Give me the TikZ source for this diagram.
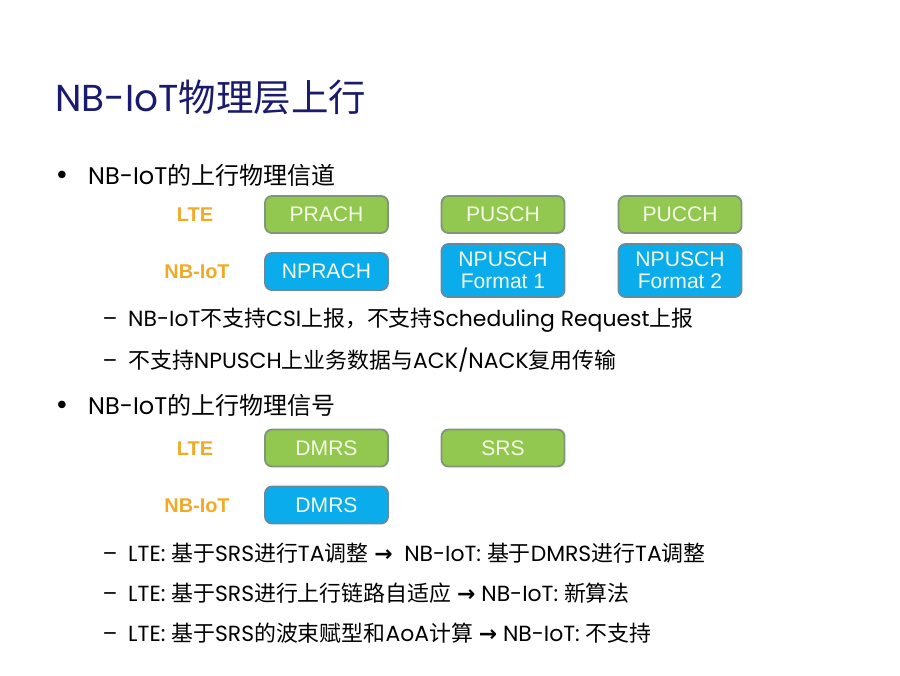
\documentclass[tikz,border=0pt]{standalone}
\usepackage{fontspec}
\setmainfont{Poppins}
\newfontfamily\cjk{Noto Sans CJK SC}
\newfontfamily\arialfont{Liberation Sans}
\newfontfamily\symbfont{DejaVu Sans}
\usetikzlibrary{shapes}
\usetikzlibrary{calc}

\definecolor{titleblue}{RGB}{26,26,110}
\definecolor{ltegreen}{RGB}{146,200,80}
\definecolor{greenline}{RGB}{128,150,120}
\definecolor{nbblue}{RGB}{10,172,235}
\definecolor{blueline}{RGB}{100,140,160}
\definecolor{labelorange}{RGB}{240,170,40}
\definecolor{boxtext}{RGB}{245,250,230}

\newcommand{\zh}[1]{{\cjk #1}}
\newcommand{\rarr}{{\symbfont\bfseries →}}

\tikzset{
  chbox/.style={draw=greenline, line width=1.6pt, rounded corners=6pt, fill=ltegreen,
    text=boxtext, font=\arialfont\fontsize{18}{19}\selectfont, align=center,
    minimum width=3.69cm, minimum height=1.11cm, inner sep=1pt},
  nbbox/.style={chbox, draw=blueline, fill=nbblue},
  rowlabel/.style={text=labelorange, font=\arialfont\bfseries\fontsize{17}{19}\selectfont},
  bullettext/.style={anchor=west, inner sep=0pt, font=\fontsize{20.5}{24}\selectfont},
  subtext/.style={anchor=west, inner sep=0pt, font=\fontsize{18.7}{22}\selectfont},
  bulletdot/.style={anchor=base, inner sep=0pt, font=\symbfont\fontsize{22}{24}\selectfont},
  subdash/.style={anchor=base, inner sep=0pt, font=\fontsize{18.7}{22}\selectfont}
}

\begin{document}
\begin{tikzpicture}[x=0.03cm, y=-0.03cm]
  \useasboundingbox[fill=white] (0,0) rectangle (900,675);

  \node[anchor=west, inner sep=0pt, text=titleblue, font=\fontsize{32}{38}\selectfont] (title) at (55,97) {NB-IoT\zh{物理层上行}};

  % uplink channels
  \node[bullettext] (item1) at (88,175) {NB-IoT\zh{的上行物理信道}};
  \node[bulletdot] (dot1) at ($(item1.base west)+(-26,0)$) {•};

  \node[rowlabel] (lte1) at (195,215) {LTE};
  \node[rowlabel] (nb1) at (197,272) {NB-IoT};

  \node[chbox] (prach) at (326.5,214.5) {PRACH};
  \node[chbox] (pusch) at (503,214.5) {PUSCH};
  \node[chbox] (pucch) at (680,214.5) {PUCCH};

  \node[nbbox] (nprach) at (326.5,271.5) {NPRACH};
  \node[nbbox, minimum height=1.59cm] (npusch1) at (503,270.5) {NPUSCH\\Format 1};
  \node[nbbox, minimum height=1.59cm] (npusch2) at (680,270.5) {NPUSCH\\Format 2};

  \node[subtext] (sub1) at (128,320) {NB-IoT\zh{不支持}CSI\zh{上报，不支持}Scheduling Request\zh{上报}};
  \node[subdash] (dash1) at ($(sub1.base west)+(-18,0)$) {–};
  \node[subtext] (sub2) at (128,360) {\zh{不支持}NPUSCH\zh{上业务数据与}ACK/NACK\zh{复用传输}};
  \node[subdash] (dash2) at ($(sub2.base west)+(-18,0)$) {–};

  % uplink signals
  \node[bullettext] (item2) at (88,405) {NB-IoT\zh{的上行物理信号}};
  \node[bulletdot] (dot2) at ($(item2.base west)+(-26,0)$) {•};

  \node[rowlabel] (lte2) at (195,449) {LTE};
  \node[rowlabel] (nb2) at (197,506) {NB-IoT};

  \node[chbox] (dmrs) at (326.5,448) {DMRS};
  \node[chbox] (srs) at (503,448) {SRS};
  \node[nbbox] (ndmrs) at (326.5,505) {DMRS};

  \node[subtext] (sub3) at (128,553) {LTE: \zh{基于}SRS\zh{进行}TA\zh{调整} \rarr{}\ \ NB-IoT: \zh{基于}DMRS\zh{进行}TA\zh{调整}};
  \node[subdash] (dash3) at ($(sub3.base west)+(-18,0)$) {–};
  \node[subtext] (sub4) at (128,593) {LTE: \zh{基于}SRS\zh{进行上行链路自适应} \rarr{} NB-IoT: \zh{新算法}};
  \node[subdash] (dash4) at ($(sub4.base west)+(-18,0)$) {–};
  \node[subtext] (sub5) at (128,633) {LTE: \zh{基于}SRS\zh{的波束赋型和}AoA\zh{计算} \rarr{} NB-IoT: \zh{不支持}};
  \node[subdash] (dash5) at ($(sub5.base west)+(-18,0)$) {–};
\end{tikzpicture}
\end{document}
